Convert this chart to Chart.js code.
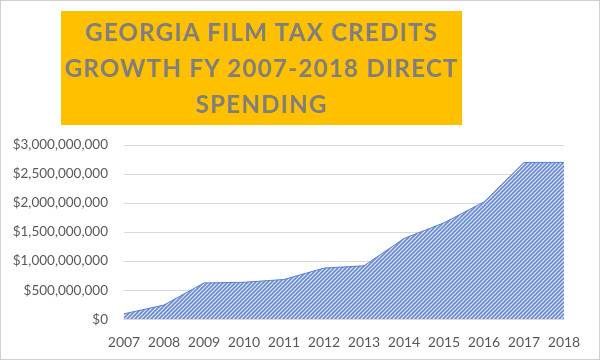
<!DOCTYPE html>
<html>
<head>
<meta charset="utf-8">
<script src="https://cdn.jsdelivr.net/npm/chart.js@4.4.0/dist/chart.umd.min.js"></script>
<style>
  html, body { margin: 0; padding: 0; background: #fff; }
  #wrap { position: relative; width: 598px; height: 358px; border: 1px solid #d0d0d0; overflow: hidden; }
  #title {
    position: absolute; left: 60px; top: 10px; width: 401px; height: 114px;
    background: #FFC000; color: #7F7F7F; text-align: center;
    font-family: "Lato", sans-serif; font-weight: bold; font-size: 24px;
    letter-spacing: 1.3px; line-height: 36px; padding-top: 3px; box-sizing: border-box;
    white-space: nowrap;
  }
  #chart { position: absolute; left: 0; top: 0; }
</style>
</head>
<body>
<div id="wrap">
  <canvas id="chart" width="598" height="358"></canvas>
  <div id="title">GEORGIA FILM TAX CREDITS<br>GROWTH FY 2007-2018 DIRECT<br>SPENDING</div>
</div>
<script>
"use strict";
// fiscal years and direct spending (USD)
var years = ["2007", "2008", "2009", "2010", "2011", "2012", "2013", "2014", "2015", "2016", "2017", "2018"];
var spending = [93000000, 244000000, 625000000, 636000000, 684000000, 880000000, 920000000, 1390000000, 1660000000, 2020000000, 2700000000, 2700000000];
var yTicks = [0, 500000000, 1000000000, 1500000000, 2000000000, 2500000000, 3000000000];

function makeHatch() {
    var c = document.createElement("canvas");
    c.width = 4; c.height = 4;
    var g = c.getContext("2d");
    g.fillStyle = "#dfe7f6";
    g.fillRect(0, 0, 4, 4);
    g.strokeStyle = "#6a8bd0";
    g.lineWidth = 1.6;
    g.beginPath();
    g.moveTo(-1, 5); g.lineTo(5, -1);
    g.moveTo(-1, 1); g.lineTo(1, -1);
    g.moveTo(3, 5); g.lineTo(5, 3);
    g.stroke();
    return g.createPattern(c, "repeat");
}

var ctx = document.getElementById("chart");
var myAreaChart = new Chart(ctx, {
    type: "line",
    data: {
        labels: years,
        datasets: [{
            data: spending,
            fill: "origin",
            backgroundColor: makeHatch(),
            borderColor: "#5b7fcb",
            borderWidth: 1,
            pointRadius: 0,
            tension: 0
        }]
    },
    options: {
        responsive: false,
        animation: false,
        layout: { padding: { top: 144, right: 35, left: 10, bottom: 1 } },
        plugins: {
            legend: { display: false },
            tooltip: { enabled: false }
        },
        scales: {
            x: {
                offset: false,
                grid: { display: false },
                border: { display: false },
                ticks: {
                    color: "#595959",
                    font: { family: "Lato", size: 14 },
                    padding: 7,
                    maxRotation: 0,
                    autoSkip: false
                }
            },
            y: {
                min: 0,
                max: 3000000000,
                afterBuildTicks: function (scale) {
                    scale.ticks = yTicks.map(function (v) { return { value: v }; });
                },
                afterFit: function (scale) {
                    scale.width = 113;
                },
                grid: { color: "#d9d9d9", drawTicks: false },
                border: { display: false },
                ticks: {
                    color: "#595959",
                    font: { family: "Lato", size: 13.5 },
                    padding: 16,
                    callback: function (v) { return "$" + v.toLocaleString("en-US"); }
                }
            }
        }
    }
});
</script>
</body>
</html>
